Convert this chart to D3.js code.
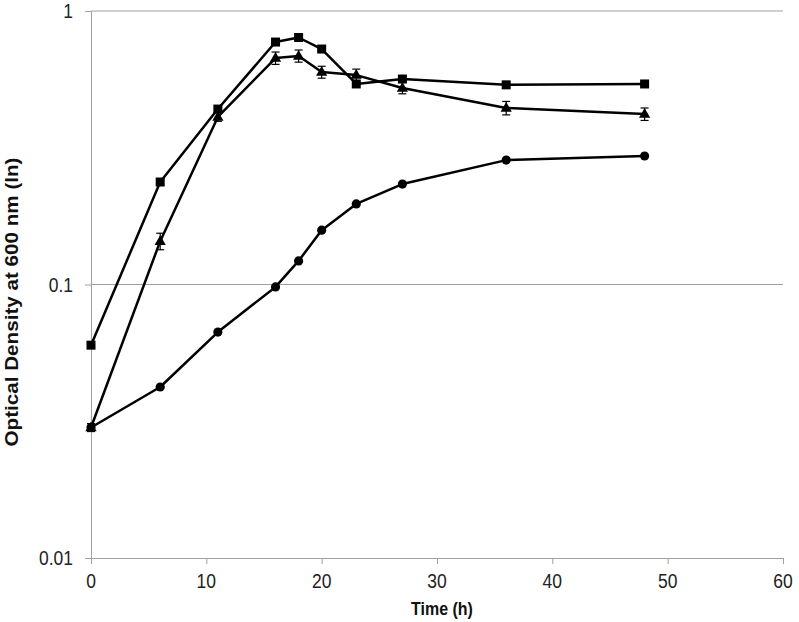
<!DOCTYPE html>
<html><head><meta charset="utf-8">
<script src="https://cdn.jsdelivr.net/npm/d3@7"></script>
<style>body{margin:0;background:#fff}svg{display:block;font-family:"Liberation Sans",Arial,sans-serif}</style>
</head><body><svg id="c" width="799" height="622"></svg>
<script>
const times = [0, 6, 11, 16, 18, 20, 23, 27, 36, 48];
const squareSeries = [0.060, 0.237, 0.438, 0.77, 0.80, 0.726, 0.541, 0.564, 0.537, 0.541];
const triangleSeries = [0.030, 0.144, 0.41, 0.673, 0.685, 0.598, 0.583, 0.523, 0.442, 0.42];
const triangleErrors = [0.001, 0.010, 0.015, 0.035, 0.035, 0.030, 0.030, 0.025, 0.025, 0.022];
const circleSeries = [0.030, 0.0422, 0.067, 0.098, 0.122, 0.158, 0.197, 0.233, 0.285, 0.295];
const xTicks = [0, 10, 20, 30, 40, 50, 60];
const yTicks = [0.01, 0.1, 1];
const yTickLabels = ["0.01", "0.1", "1"];
const xTitle = "Time (h)";
const yTitle = "Optical Density at 600 nm (ln)";

const svg = d3.select("#c");
const x = d3.scaleLinear().domain([0, 60]).range([91, 783]);
const y = d3.scaleLog().domain([0.01, 1]).range([558, 11]);
const STRETCH = 1.18;

// gridlines
svg.append("g").selectAll("line").data(yTicks.slice(1)).join("line")
  .attr("x1", 91).attr("x2", 783).attr("y1", d => y(d)).attr("y2", d => y(d))
  .attr("stroke", "#a0a0a0").attr("stroke-width", 1);

// y axis
const yAxis = svg.append("g").attr("transform", "translate(91,0)")
  .call(d3.axisLeft(y).tickValues(yTicks).tickFormat("").tickSize(6).tickSizeOuter(0));
yAxis.select(".domain").attr("stroke", "#a0a0a0");
yAxis.selectAll(".tick line").attr("stroke", "#a0a0a0");
yAxis.selectAll(".tick text").remove();

// x axis
const xAxis = svg.append("g").attr("transform", "translate(0,558)")
  .call(d3.axisBottom(x).tickValues(xTicks).tickFormat("").tickSize(6).tickSizeOuter(0));
xAxis.select(".domain").attr("stroke", "#a0a0a0");
xAxis.selectAll(".tick line").attr("stroke", "#a0a0a0");
xAxis.selectAll(".tick text").remove();

// tick labels (slightly tall glyphs like the reference)
svg.append("g").selectAll("text").data(yTicks).join("text")
  .attr("transform", d => "translate(73," + (y(d) + 7) + ") scale(1," + STRETCH + ")")
  .attr("text-anchor", "end").attr("font-size", 17.5).attr("fill", "#222")
  .text((d, i) => yTickLabels[i]);
svg.append("g").selectAll("text").data(xTicks).join("text")
  .attr("transform", d => "translate(" + x(d) + ",588) scale(1," + STRETCH + ")")
  .attr("text-anchor", "middle").attr("font-size", 17.5).attr("fill", "#222")
  .text(d => d);

// titles
svg.append("text").attr("transform", "translate(" + 442 + ",615) scale(1," + STRETCH + ")")
  .attr("text-anchor", "middle")
  .attr("font-size", 16).attr("font-weight", "bold").attr("fill", "#111").text(xTitle);
svg.append("text").attr("transform", "translate(17.5,302) rotate(-90) scale(" + STRETCH + ",1)")
  .attr("text-anchor", "middle")
  .attr("font-size", 17.5).attr("font-weight", "bold").attr("fill", "#111").text(yTitle);

const line = d3.line().x(d => x(d[0])).y(d => y(d[1]));
function series(vals) { return times.map((t, i) => [t, vals[i]]); }

const g = svg.append("g");
// error bars for triangle series
const eb = g.append("g").attr("stroke", "#000").attr("stroke-width", 1.2);
times.forEach((t, i) => {
  const v = triangleSeries[i], e = triangleErrors[i];
  const cx = x(t), y1 = y(v + e), y2 = y(v - e);
  eb.append("line").attr("x1", cx).attr("x2", cx).attr("y1", y1).attr("y2", y2);
  eb.append("line").attr("x1", cx - 4).attr("x2", cx + 4).attr("y1", y1).attr("y2", y1);
  eb.append("line").attr("x1", cx - 4).attr("x2", cx + 4).attr("y1", y2).attr("y2", y2);
});

[circleSeries, triangleSeries, squareSeries].forEach(vals => {
  g.append("path").datum(series(vals)).attr("d", line)
    .attr("fill", "none").attr("stroke", "#000").attr("stroke-width", 2.5).attr("stroke-linejoin", "round");
});

g.append("g").selectAll("rect").data(series(squareSeries)).join("rect")
  .attr("x", d => x(d[0]) - 4.5).attr("y", d => y(d[1]) - 4.5).attr("width", 9).attr("height", 9).attr("fill", "#000");
g.append("g").selectAll("circle").data(series(circleSeries)).join("circle")
  .attr("cx", d => x(d[0])).attr("cy", d => y(d[1])).attr("r", 4.6).attr("fill", "#000");
const tri = d3.symbol().type(d3.symbolTriangle).size(55);
g.append("g").selectAll("path").data(series(triangleSeries)).join("path")
  .attr("transform", d => "translate(" + x(d[0]) + "," + (y(d[1]) + 0.5) + ")").attr("d", tri).attr("fill", "#000");
</script></body></html>
